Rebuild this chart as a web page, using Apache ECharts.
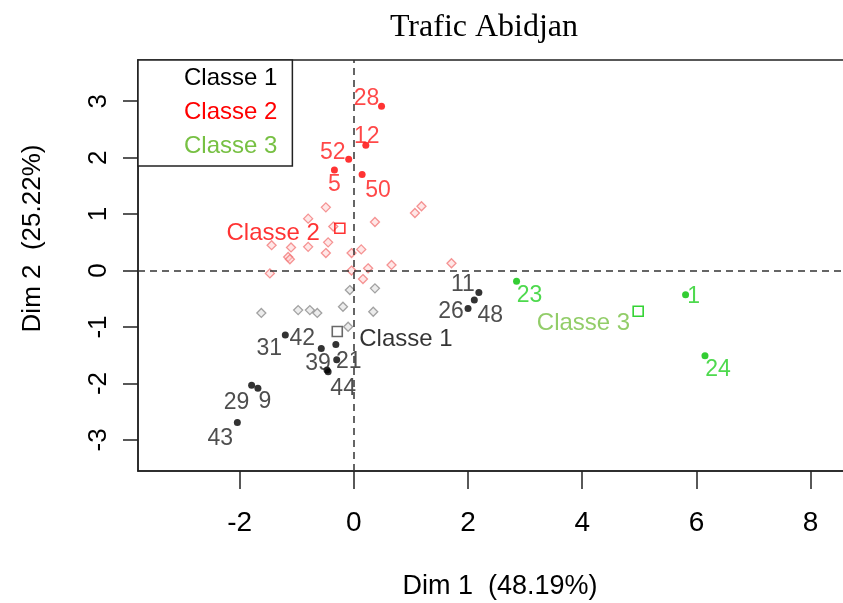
<!DOCTYPE html>
<html>
<head>
<meta charset="utf-8">
<script src="https://cdn.jsdelivr.net/npm/echarts@6/dist/echarts.min.js"></script>
<style>html,body{margin:0;padding:0;background:#fff}#chart{width:843px;height:603px}</style>
</head>
<body>
<div id="chart"></div>
<script>
// ---- data ----
const xTicks = [-2, 0, 2, 4, 6, 8];
const yTicks = [-3, -2, -1, 0, 1, 2, 3];
const classNames = ['Classe 1', 'Classe 2', 'Classe 3'];

const class1Names = ['11', '48', '26', '31', '42', '', '21', '39', '44', '29', '9', '43'];
const class1X = [2.19, 2.11, 2.00, -1.20, -0.57, -0.315, -0.30, -0.47, -0.45, -1.79, -1.68, -2.04];
const class1Y = [-0.39, -0.52, -0.67, -1.14, -1.38, -1.31, -1.58, -1.76, -1.79, -2.03, -2.085, -2.69];

const class2Names = ['28', '12', '52', '5', '50'];
const class2X = [0.485, 0.21, -0.09, -0.34, 0.145];
const class2Y = [2.91, 2.22, 1.97, 1.78, 1.70];

const class3Names = ['23', '1', '24'];
const class3X = [2.85, 5.81, 6.15];
const class3Y = [-0.19, -0.43, -1.51];

const class1OtherX = [-0.07, 0.37, -1.62, -0.975, -0.77, -0.64, -0.19, 0.34, -0.10];
const class1OtherY = [-0.345, -0.315, -0.75, -0.70, -0.70, -0.75, -0.64, -0.73, -0.995];

const class2OtherX = [-0.49, 1.07, 1.185, 0.37, -0.36, -0.45, -0.49, -0.04, 0.13, 0.66, 0.25, -0.04, 0.16, 1.71, -0.80, -0.80, -1.10, -1.15, -1.12, -1.44, -1.47];
const class2OtherY = [1.12, 1.02, 1.14, 0.86, 0.78, 0.50, 0.31, 0.31, 0.375, 0.10, 0.04, 0.0, -0.15, 0.13, 0.92, 0.42, 0.41, 0.24, 0.20, 0.45, -0.05];

const centerX = [-0.29, -0.245, 4.98];
const centerY = [-1.08, 0.75, -0.72];

// ---- styles (label placement, pixel offsets) ----
const labelOffset = {
  '11': [-16, -8], '48': [16, 16], '26': [-17, 3], '31': [-16, 14], '42': [-19, -10],
  '21': [12, 2], '39': [-9, -6], '44': [15, 17], '29': [-15, 17], '9': [7, 13], '43': [-17, 16],
  '28': [-15, -8], '12': [1, -9], '52': [-16, -7], '5': [0, 15], '50': [16, 16],
  '23': [13, 14], '1': [8, 2], '24': [13, 14]
};
const centerLabelStyle = [
  { align: 'left', offset: [22, 8], color: '#000' },
  { align: 'right', offset: [-20, 5], color: '#ff0000' },
  { align: 'right', offset: [-8, 12], color: '#77c043' }
];
const FONT = '"Liberation Sans", Arial, sans-serif';

function pts(names, xs, ys) {
  return names.map((n, i) => ({
    name: n,
    value: [xs[i], ys[i]],
    label: { show: n !== '', offset: labelOffset[n] || [0, 0] }
  }));
}
function plain(xs, ys) { return xs.map((x, i) => [x, ys[i]]); }

function labeledSeries(name, data, dotColor, labelColor) {
  return {
    type: 'scatter', name: name, data: data, symbol: 'circle', symbolSize: 7,
    itemStyle: { color: dotColor }, z: 4,
    label: { show: true, position: 'inside', formatter: '{b}', fontFamily: FONT, fontSize: 23, color: labelColor }
  };
}
function centerSeries(i, borderColor) {
  const st = centerLabelStyle[i];
  return {
    type: 'scatter', name: classNames[i], symbol: 'rect', symbolSize: 10, z: 5,
    itemStyle: { color: 'rgba(255,255,255,0)', borderColor: borderColor, borderWidth: 1.6 },
    data: [{ name: classNames[i], value: [centerX[i], centerY[i]] }],
    label: { show: true, position: 'inside', formatter: '{b}', align: st.align, verticalAlign: 'middle',
      offset: st.offset, color: st.color, fontFamily: FONT, fontSize: 24 }
  };
}

const chart = echarts.init(document.getElementById('chart'));
chart.setOption({
  animation: false,
  backgroundColor: '#fff',
  title: {
    text: 'Trafic Abidjan', left: 479, top: 7, textAlign: 'center',
    textStyle: { fontFamily: '"Liberation Serif", "Times New Roman", serif', fontSize: 32, fontWeight: 'normal', color: '#000' }
  },
  legend: {
    left: 138, top: 60, orient: 'vertical', align: 'left', selectedMode: false,
    icon: 'rect', itemWidth: 1, itemHeight: 1, itemStyle: { opacity: 0 },
    itemGap: 8, padding: [5, 15, 7, 39],
    borderColor: '#222', borderWidth: 1.5, backgroundColor: '#fff',
    textStyle: { fontSize: 24, fontFamily: FONT, lineHeight: 26 },
    data: [
      { name: 'Classe 1', textStyle: { color: '#000' } },
      { name: 'Classe 2', textStyle: { color: '#ff0000' } },
      { name: 'Classe 3', textStyle: { color: '#77c043' } }
    ]
  },
  grid: {
    left: 138, top: 60, width: 724, height: 411, outerBoundsMode: 'none', containLabel: false,
    show: true, borderColor: '#222', borderWidth: 1.5, backgroundColor: 'transparent'
  },
  xAxis: {
    type: 'value', min: -3.78, max: 8.9, splitLine: { show: false },
    axisLine: { show: true, onZero: false, lineStyle: { color: '#222', width: 1.5 } },
    axisTick: { show: true, customValues: xTicks, length: 18, lineStyle: { color: '#222', width: 1.5 } },
    axisLabel: { customValues: xTicks, margin: 38, fontSize: 28, fontFamily: FONT, color: '#000' },
    name: 'Dim 1  (48.19%)', nameLocation: 'middle', nameGap: 102,
    nameTextStyle: { fontSize: 27, fontFamily: FONT, color: '#000' }
  },
  yAxis: {
    type: 'value', min: -3.55, max: 3.73, splitLine: { show: false },
    axisLine: { show: true, onZero: false, lineStyle: { color: '#222', width: 1.5 } },
    axisTick: { show: true, customValues: yTicks, length: 15, lineStyle: { color: '#222', width: 1.5 } },
    axisLabel: { customValues: yTicks, rotate: 90, margin: 26, fontSize: 26, fontFamily: FONT, color: '#000' },
    name: 'Dim 2  (25.22%)', nameLocation: 'middle', nameGap: 92, nameRotate: 90,
    nameTextStyle: { fontSize: 26, fontFamily: FONT, color: '#000', padding: [0, 0, 0, 54] }
  },
  series: [
    {
      type: 'scatter', name: 'Classe 1', data: plain(class1OtherX, class1OtherY),
      symbol: 'diamond', symbolSize: 9, z: 2,
      itemStyle: { color: 'rgba(215,215,215,0.6)', borderColor: '#8c8c8c', borderWidth: 1.3 },
      markLine: {
        silent: true, symbol: ['none', 'none'], label: { show: false },
        lineStyle: { type: [7, 5], color: '#333', width: 1.5 },
        data: [{ xAxis: 0 }, { yAxis: 0 }]
      }
    },
    {
      type: 'scatter', name: 'Classe 2', data: plain(class2OtherX, class2OtherY),
      symbol: 'diamond', symbolSize: 9, z: 2,
      itemStyle: { color: 'rgba(255,205,205,0.6)', borderColor: '#f27a7a', borderWidth: 1.3 }
    },
    labeledSeries('Classe 1', pts(class1Names, class1X, class1Y), '#000', '#222'),
    labeledSeries('Classe 2', pts(class2Names, class2X, class2Y), '#ff0000', '#ff1a1a'),
    labeledSeries('Classe 3', pts(class3Names, class3X, class3Y), '#00c000', '#22d022'),
    centerSeries(0, '#444'),
    centerSeries(1, '#ff0000'),
    centerSeries(2, '#00c800')
  ]
});
</script>
</body>
</html>
